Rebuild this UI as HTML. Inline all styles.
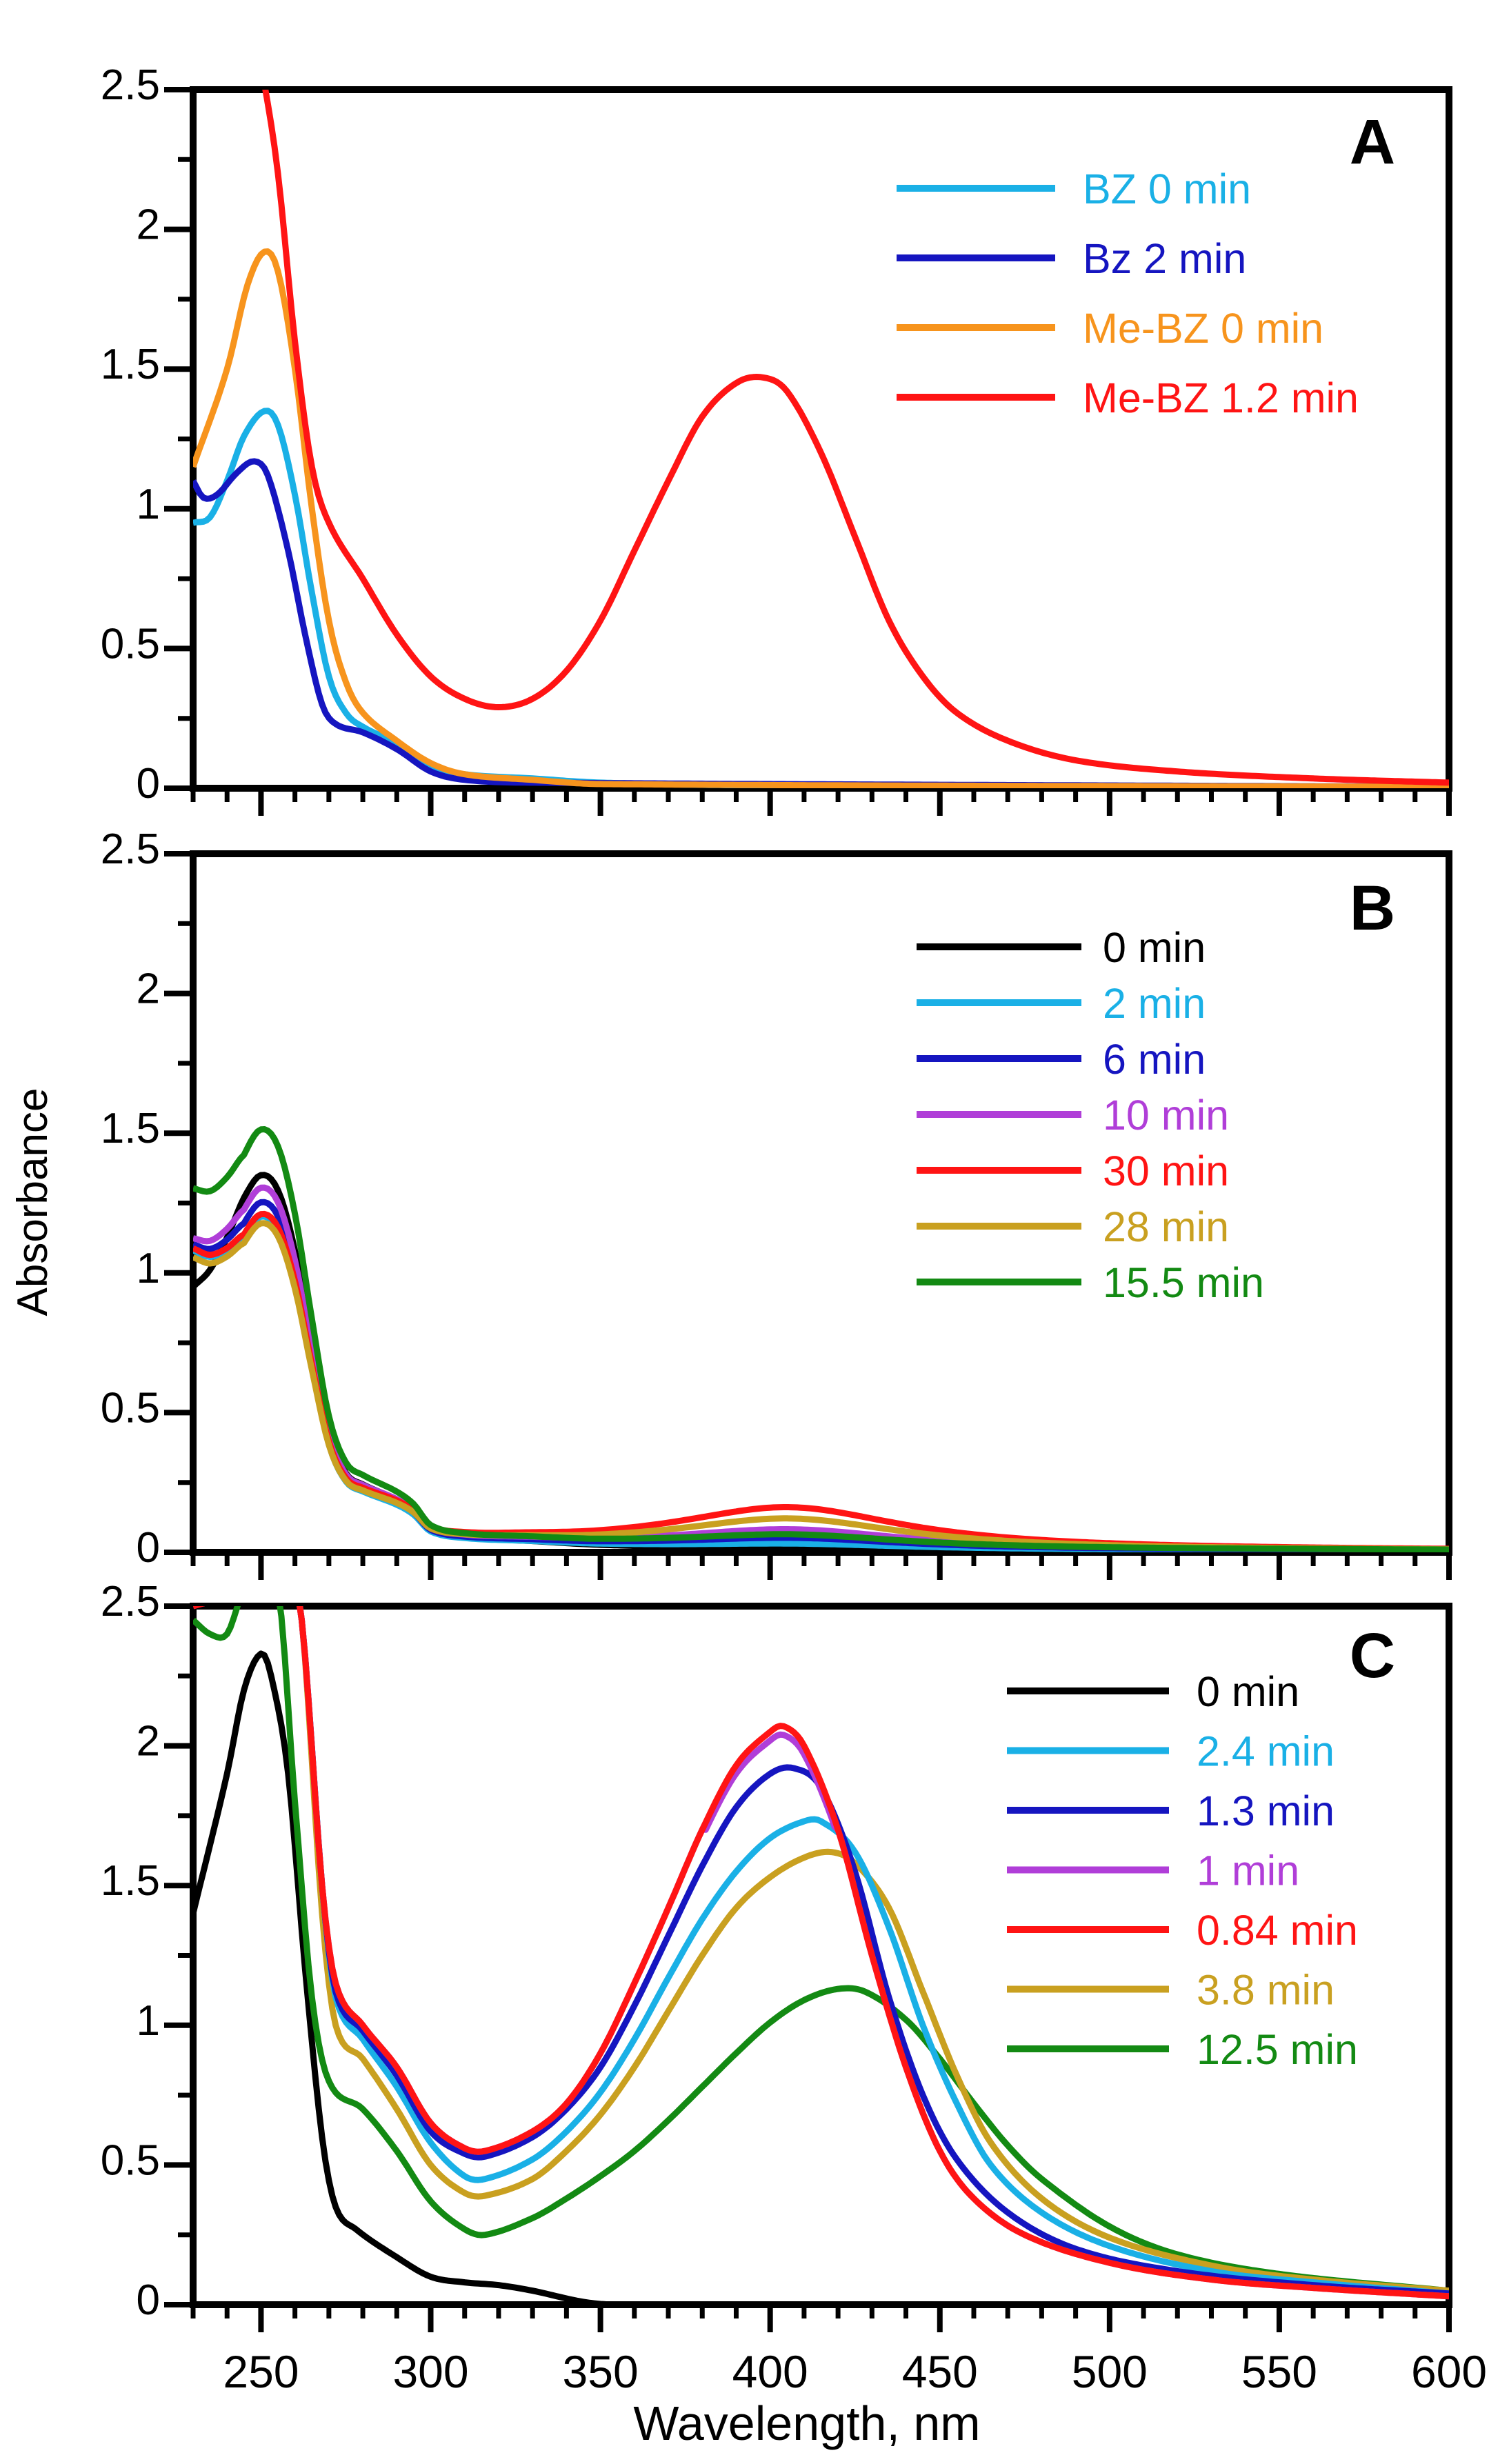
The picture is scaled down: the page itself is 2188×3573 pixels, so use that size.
<!DOCTYPE html>
<html><head><meta charset="utf-8"><style>
html,body{margin:0;padding:0;background:#fff;}
svg{display:block;}
text{font-family:"Liberation Sans",sans-serif;}
</style></head><body>
<svg id="s" xmlns="http://www.w3.org/2000/svg" width="2188" height="3573" viewBox="0 0 2188 3573">
<defs>
<clipPath id="cA"><rect x="280" y="130" width="1821" height="1013"/></clipPath>
<clipPath id="cB"><rect x="280" y="1238" width="1821" height="1013"/></clipPath>
<clipPath id="cC"><rect x="280" y="2329" width="1821" height="1013"/></clipPath>
</defs>
<g id="g"></g>
<text x="0" y="0" transform="translate(68,1743) rotate(-90)" text-anchor="middle" font-size="62">Absorbance</text>
<text x="1170" y="3538" text-anchor="middle" font-size="70">Wavelength, nm</text>
<text x="1990" y="237" text-anchor="middle" font-size="92" font-weight="bold">A</text>
<text x="1990" y="1348" text-anchor="middle" font-size="92" font-weight="bold">B</text>
<text x="1990" y="2432" text-anchor="middle" font-size="92" font-weight="bold">C</text>
</svg>
<script>
var NS="http://www.w3.org/2000/svg",G=document.getElementById('g');
var X0=280,X1=2101,W0=230,W1=600;
function px(w){return X0+(w-W0)*(X1-X0)/(W1-W0);}
var panels=[{top:130,bot:1143},{top:1238,bot:2251},{top:2329,bot:3342}];
function el(t,a,txt){var e=document.createElementNS(NS,t);for(var k in a)e.setAttribute(k,a[k]);if(txt!==undefined)e.textContent=txt;G.appendChild(e);return e;}
function interp(pts,x){
 if(x<=pts[0][0])return pts[0][1];
 for(var i=0;i<pts.length-1;i++){var a=pts[i],b=pts[i+1];if(x<=b[0]){
  var p0=pts[Math.max(0,i-1)],p3=pts[Math.min(pts.length-1,i+2)];
  var t=(x-a[0])/(b[0]-a[0]);
  var m1=(b[1]-p0[1])/(b[0]-p0[0])*(b[0]-a[0]);
  var m2=(p3[1]-a[1])/(p3[0]-a[0])*(b[0]-a[0]);
  var t2=t*t,t3=t2*t;
  return (2*t3-3*t2+1)*a[1]+(t3-2*t2+t)*m1+(-2*t3+3*t2)*b[1]+(t3-t2)*m2;}}
 return pts[pts.length-1][1];}
function curve(pi,f,col,clip){
 var P=panels[pi],sy=(P.bot-P.top)/2.5,d="";
 for(var w=230;w<=600;w+=1){var y=f(w);if(y>2.6)y=2.6;d+=(w==230?"M":"L")+px(w).toFixed(1)+","+(P.bot-y*sy).toFixed(1);}
 el('path',{d:d,fill:"none",stroke:col,"stroke-width":9,"stroke-linejoin":"round","clip-path":"url(#"+clip+")"});}
function P(a){return function(x){return interp(a,x);};}
panels.forEach(function(p,i){
 var sy=(p.bot-p.top)/2.5;
 el('rect',{x:X0,y:p.top,width:X1-X0,height:p.bot-p.top,fill:"none",stroke:"#000","stroke-width":10});
 for(var v=0;v<=2.5001;v+=0.25){var y=p.bot-v*sy;var maj=Math.abs(v*2-Math.round(v*2))<1e-6;
  el('line',{x1:X0,x2:X0-(maj?42:22),y1:y,y2:y,stroke:"#000","stroke-width":maj?8:7});
  if(maj){var s=(Math.round(v*10)/10).toString();el('text',{x:232,y:y+14,"text-anchor":"end","font-size":62},s);}}
 for(var w=230;w<=600;w+=10){var x=px(w);var maj=(w%50==0);
  el('line',{x1:x,x2:x,y1:p.bot,y2:p.bot+(maj?40:20),stroke:"#000","stroke-width":maj?8:7});
  if(i==2&&maj)el('text',{x:x,y:3462,"text-anchor":"middle","font-size":66},w);}
});
curve(0,P([[230,0.95],[235,0.97],[240,1.1],[245,1.26],[251,1.35],[255,1.3],[260,1.05],[265,0.7],[270,0.4],[275,0.27],[280,0.22],[290,0.16],[300,0.08],[310,0.05],[330,0.035],[350,0.02],[400,0.01],[600,0.005]]),"#1ab0e6","cA");
curve(0,P([[230,1.1],[233,1.04],[237,1.05],[243,1.13],[248,1.17],[252,1.12],[258,0.85],[263,0.55],[268,0.3],[272,0.23],[280,0.2],[290,0.14],[300,0.06],[310,0.03],[330,0.02],[600,0.005]]),"#1515c0","cA");
curve(0,P([[230,1.15],[240,1.5],[246,1.8],[251,1.92],[255,1.85],[260,1.5],[265,1.0],[270,0.6],[275,0.38],[280,0.27],[290,0.17],[300,0.09],[310,0.05],[330,0.03],[350,0.015],[600,0.005]]),"#f7941d","cA");
curve(0,P([[230,3.4],[245,2.9],[251,2.52],[255,2.2],[260,1.6],[265,1.15],[270,0.95],[280,0.75],[290,0.55],[300,0.4],[310,0.32],[320,0.29],[330,0.32],[340,0.42],[350,0.6],[360,0.85],[370,1.1],[380,1.33],[390,1.45],[398,1.47],[405,1.42],[415,1.2],[425,0.9],[435,0.6],[445,0.4],[455,0.27],[470,0.17],[490,0.1],[520,0.06],[560,0.035],[600,0.02]]),"#ff1414","cA");
var shp=[[230,0.72],[235,0.76],[240,0.84],[245,0.94],[250,1],[255,0.96],[260,0.8],[265,0.55],[270,0.32],[275,0.21],[280,0.18],[290,0.14],[295,0.11],[300,0.06],[310,0.04],[330,0.03],[350,0.02],[400,0.01],[600,0.005]];
function bc(st,pk,band){return function(x){var y=pk*interp(shp,x)+(st-pk*0.72)*Math.max(0,(245-x)/15);y+=band/(1+Math.pow((x-405)/42,2));return y;};}
[[0.95,1.35,0,"#000"],[1.08,1.2,0.02,"#1ab0e6"],[1.1,1.25,0.04,"#1515c0"],[1.12,1.3,0.07,"#b03ed8"],[1.08,1.2,0.15,"#ff1414"],[1.05,1.17,0.11,"#c9a020"],[1.3,1.51,0.05,"#138a13"]].forEach(function(c){curve(1,bc(c[0],c[1],c[2]),c[3],"cB");});
curve(2,P([[230,1.4],[240,1.9],[245,2.2],[250,2.33],[253,2.25],[258,1.9],[263,1.2],[268,0.6],[272,0.35],[278,0.27],[290,0.17],[300,0.1],[310,0.08],[320,0.07],[330,0.05],[345,0.01],[355,0],[600,0]]),"#000","cC");
var green=[[230,2.45],[235,2.4],[240,2.4],[245,2.55],[255,2.55],[260,1.8],[265,1.1],[270,0.8],[280,0.7],[290,0.55],[300,0.37],[310,0.27],[316,0.25],[330,0.31],[340,0.38],[350,0.46],[360,0.55],[370,0.66],[380,0.78],[390,0.9],[400,1.01],[410,1.09],[420,1.13],[428,1.12],[440,1.02],[450,0.88],[460,0.72],[470,0.57],[480,0.45],[500,0.28],[520,0.18],[550,0.11],[600,0.05]];
var gold=[[230,2.6],[258,2.6],[262,2.45],[268,1.4],[272,1.0],[280,0.88],[290,0.7],[300,0.5],[310,0.4],[316,0.39],[330,0.45],[340,0.55],[350,0.68],[360,0.85],[370,1.05],[380,1.25],[390,1.42],[400,1.53],[410,1.6],[418,1.62],[425,1.58],[435,1.42],[445,1.12],[455,0.82],[465,0.58],[480,0.38],[500,0.24],[530,0.14],[560,0.09],[600,0.05]];
var cyan=[[230,2.6],[258,2.6],[262,2.45],[268,1.5],[272,1.1],[280,0.95],[290,0.78],[300,0.58],[310,0.46],[316,0.45],[330,0.52],[340,0.62],[350,0.76],[360,0.95],[370,1.17],[380,1.38],[390,1.55],[400,1.67],[410,1.73],[415,1.73],[425,1.62],[435,1.35],[445,1.0],[455,0.72],[465,0.5],[480,0.33],[500,0.21],[530,0.12],[560,0.08],[600,0.04]];
var blue=[[230,2.6],[258,2.6],[262,2.45],[268,1.5],[272,1.12],[280,0.98],[290,0.82],[300,0.62],[310,0.54],[316,0.53],[330,0.6],[340,0.7],[350,0.85],[360,1.07],[370,1.32],[380,1.57],[390,1.78],[400,1.9],[407,1.92],[415,1.85],[425,1.55],[435,1.1],[445,0.75],[455,0.52],[470,0.33],[490,0.2],[520,0.12],[560,0.07],[600,0.04]];
var red=[[230,2.5],[236,2.52],[258,2.6],[262,2.45],[268,1.5],[272,1.15],[280,1.0],[290,0.85],[300,0.65],[310,0.56],[316,0.55],[330,0.62],[340,0.72],[350,0.9],[360,1.15],[370,1.42],[380,1.7],[390,1.93],[400,2.05],[404,2.07],[410,2.0],[420,1.7],[430,1.25],[440,0.85],[450,0.55],[460,0.38],[475,0.25],[500,0.15],[530,0.09],[560,0.06],[600,0.03]];
curve(2,P(green),"#138a13","cC");
curve(2,P(gold),"#c9a020","cC");
curve(2,P(cyan),"#1ab0e6","cC");
curve(2,P(blue),"#1515c0","cC");
curve(2,function(x){return interp(red,x)*(x>380&&x<420?0.985:1.0);},"#b03ed8","cC");
curve(2,P(red),"#ff1414","cC");
function leg(x1,x2,tx,ys,items){items.forEach(function(it,i){var y=ys[0]+i*ys[1];
 el('line',{x1:x1,x2:x2,y1:y,y2:y,stroke:it[1],"stroke-width":10});
 el('text',{x:tx,y:y+22,"font-size":61,fill:it[1]},it[0]);});}
leg(1300,1530,1570,[273,101],[["BZ 0 min","#1ab0e6"],["Bz 2 min","#1515c0"],["Me-BZ 0 min","#f7941d"],["Me-BZ 1.2 min","#ff1414"]]);
leg(1329,1568,1599,[1373,81],[["0 min","#000"],["2 min","#1ab0e6"],["6 min","#1515c0"],["10 min","#b03ed8"],["30 min","#ff1414"],["28 min","#c9a020"],["15.5 min","#138a13"]]);
leg(1460,1695,1735,[2452,86.5],[["0 min","#000"],["2.4 min","#1ab0e6"],["1.3 min","#1515c0"],["1 min","#b03ed8"],["0.84 min","#ff1414"],["3.8 min","#c9a020"],["12.5 min","#138a13"]]);
</script>
</body></html>
